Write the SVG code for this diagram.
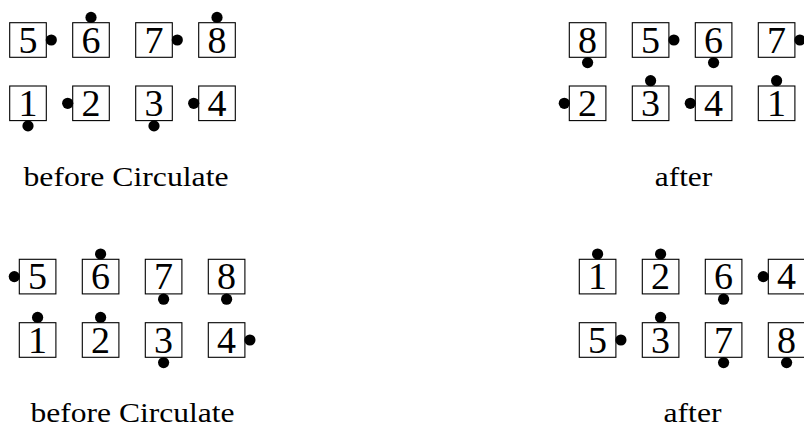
<svg xmlns="http://www.w3.org/2000/svg" width="804" height="425" viewBox="0 0 804 425">
<style>
.b{fill:#fff;stroke:#000;stroke-width:1.1}
.n{font-family:"Liberation Serif","DejaVu Serif",serif;font-size:38px;text-anchor:middle;fill:#000}
.d{fill:#000}
.l{font-family:"Liberation Serif","DejaVu Serif",serif;font-size:27px;text-anchor:middle;fill:#000}
</style>
<defs>
<rect id="box" class="b" x="0" y="0" width="36.6" height="34.6"/>
<circle id="dR" class="d" cx="41.6" cy="17.3" r="5.6"/>
<circle id="dL" class="d" cx="-5" cy="17.3" r="5.6"/>
<circle id="dT" class="d" cx="18.3" cy="-5.3" r="5.6"/>
<circle id="dB" class="d" cx="18.3" cy="39.9" r="5.6"/>
</defs>
<g id="connectors"/>
<!-- Panel A: before Circulate (top) -->
<g id="a5" transform="translate(9.7,22.7)"><use href="#box"/><text class="n" x="18.3" y="30">5</text><use href="#dR"/></g>
<g id="a6" transform="translate(72.7,22.7)"><use href="#box"/><text class="n" x="18.3" y="30">6</text><use href="#dT"/></g>
<g id="a7" transform="translate(135.7,22.7)"><use href="#box"/><text class="n" x="18.3" y="30">7</text><use href="#dR"/></g>
<g id="a8" transform="translate(198.7,22.7)"><use href="#box"/><text class="n" x="18.3" y="30">8</text><use href="#dT"/></g>
<g id="a1" transform="translate(9.7,86)"><use href="#box"/><text class="n" x="18.3" y="30">1</text><use href="#dB"/></g>
<g id="a2" transform="translate(72.7,86)"><use href="#box"/><text class="n" x="18.3" y="30">2</text><use href="#dL"/></g>
<g id="a3" transform="translate(135.7,86)"><use href="#box"/><text class="n" x="18.3" y="30">3</text><use href="#dB"/></g>
<g id="a4" transform="translate(198.7,86)"><use href="#box"/><text class="n" x="18.3" y="30">4</text><use href="#dL"/></g>
<text class="l" x="126" y="186" textLength="205" lengthAdjust="spacingAndGlyphs">before Circulate</text>
<!-- Panel B: after (top) -->
<g id="b8" transform="translate(569.3,22.7)"><use href="#box"/><text class="n" x="18.3" y="30">8</text><use href="#dB"/></g>
<g id="b5" transform="translate(632.3,22.7)"><use href="#box"/><text class="n" x="18.3" y="30">5</text><use href="#dR"/></g>
<g id="b6" transform="translate(695.3,22.7)"><use href="#box"/><text class="n" x="18.3" y="30">6</text><use href="#dB"/></g>
<g id="b7" transform="translate(758.3,22.7)"><use href="#box"/><text class="n" x="18.3" y="30">7</text><use href="#dR"/></g>
<g id="b2" transform="translate(569.3,86)"><use href="#box"/><text class="n" x="18.3" y="30">2</text><use href="#dL"/></g>
<g id="b3" transform="translate(632.3,86)"><use href="#box"/><text class="n" x="18.3" y="30">3</text><use href="#dT"/></g>
<g id="b4" transform="translate(695.3,86)"><use href="#box"/><text class="n" x="18.3" y="30">4</text><use href="#dL"/></g>
<g id="b1" transform="translate(758.3,86)"><use href="#box"/><text class="n" x="18.3" y="30">1</text><use href="#dT"/></g>
<text class="l" x="683.5" y="186" textLength="57.5" lengthAdjust="spacingAndGlyphs">after</text>
<!-- Panel C: before Circulate (bottom) -->
<g id="c5" transform="translate(19.3,259.3)"><use href="#box"/><text class="n" x="18.3" y="30">5</text><use href="#dL"/></g>
<g id="c6" transform="translate(82.3,259.3)"><use href="#box"/><text class="n" x="18.3" y="30">6</text><use href="#dT"/></g>
<g id="c7" transform="translate(145.3,259.3)"><use href="#box"/><text class="n" x="18.3" y="30">7</text><use href="#dB"/></g>
<g id="c8" transform="translate(208.3,259.3)"><use href="#box"/><text class="n" x="18.3" y="30">8</text><use href="#dB"/></g>
<g id="c1" transform="translate(19.3,322.7)"><use href="#box"/><text class="n" x="18.3" y="30">1</text><use href="#dT"/></g>
<g id="c2" transform="translate(82.3,322.7)"><use href="#box"/><text class="n" x="18.3" y="30">2</text><use href="#dT"/></g>
<g id="c3" transform="translate(145.3,322.7)"><use href="#box"/><text class="n" x="18.3" y="30">3</text><use href="#dB"/></g>
<g id="c4" transform="translate(208.3,322.7)"><use href="#box"/><text class="n" x="18.3" y="30">4</text><use href="#dR"/></g>
<text class="l" x="132.5" y="422" textLength="204" lengthAdjust="spacingAndGlyphs">before Circulate</text>
<!-- Panel D: after (bottom) -->
<g id="d1" transform="translate(579.3,259.3)"><use href="#box"/><text class="n" x="18.3" y="30">1</text><use href="#dT"/></g>
<g id="d2" transform="translate(642.3,259.3)"><use href="#box"/><text class="n" x="18.3" y="30">2</text><use href="#dT"/></g>
<g id="d6" transform="translate(705.3,259.3)"><use href="#box"/><text class="n" x="18.3" y="30">6</text><use href="#dB"/></g>
<g id="d4" transform="translate(768.3,259.3)"><use href="#box"/><text class="n" x="18.3" y="30">4</text><use href="#dL"/></g>
<g id="d5" transform="translate(579.3,322.7)"><use href="#box"/><text class="n" x="18.3" y="30">5</text><use href="#dR"/></g>
<g id="d3" transform="translate(642.3,322.7)"><use href="#box"/><text class="n" x="18.3" y="30">3</text><use href="#dT"/></g>
<g id="d7" transform="translate(705.3,322.7)"><use href="#box"/><text class="n" x="18.3" y="30">7</text><use href="#dB"/></g>
<g id="d8" transform="translate(768.3,322.7)"><use href="#box"/><text class="n" x="18.3" y="30">8</text><use href="#dB"/></g>
<text class="l" x="692.5" y="422" textLength="58" lengthAdjust="spacingAndGlyphs">after</text>
</svg>
